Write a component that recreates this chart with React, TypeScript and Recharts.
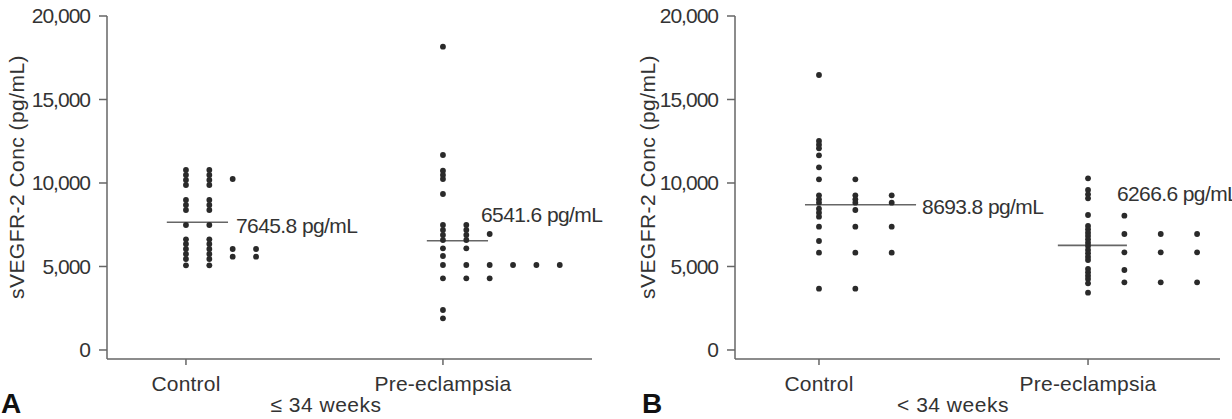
import { ScatterChart, Scatter, XAxis, YAxis, ReferenceLine } from 'recharts';

// dot columns per group; each inner list is one column of stacked dots (pg/mL)
const aControlCols = [
  [10778, 10479, 10180, 9880, 8982, 8683, 8383, 7485, 6629, 6347, 6048, 5749, 5449, 5072],
  [10778, 10479, 10180, 9880, 8982, 8683, 8383, 7485, 6629, 6347, 6048, 5749, 5449, 5072],
  [10240, 6048, 5590],
  [6048, 5590],
];
const aPreCols = [
  [18162, 11677, 10737, 10479, 10240, 9341, 7485, 7186, 6886, 6587, 6090, 5629, 5090, 4293, 2395, 1898],
  [7485, 7186, 6886, 6587, 6090, 5090, 4293],
  [6946, 5090, 4293],
  [5090],
  [5090],
  [5090],
];
const bControlCols = [
  [16467, 12515, 12295, 12078, 11659, 10940, 10222, 9263, 9024, 8822, 8462, 8222, 7983, 7384, 6527, 5827, 3671],
  [10222, 9263, 9024, 8822, 8383, 7384, 5827, 3671],
  [9263, 8822, 7384, 5827],
];
const bPreCols = [
  [10281, 9581, 9323, 9084, 8084, 7425, 7228, 7024, 6826, 6629, 6425, 6228, 5988, 5790, 5590, 5389, 4850, 4653, 4449, 4252, 3994, 3431],
  [8042, 6946, 5850, 4790, 4054],
  [6946, 5850, 4054],
  [6946, 5850, 4054],
];

const aMeans = [7645.8, 6541.6];
const bMeans = [8693.8, 6266.6];
const groupNames = ['Control', 'Pre-eclampsia'];
const yTicks = [0, 5000, 10000, 15000, 20000];

const FONT = '"Liberation Sans", Arial, sans-serif';
const TEXT = '#333';
const AXIS = '#666';
const DOT = '#2a2a2a';

function toPoints(cols: number[][], base: number) {
  return cols.flatMap((col, i) => col.map((v) => ({ x: base + i, y: v })));
}

const fmt = (v: number) => v.toLocaleString('en-US');

interface MeanLine {
  value: number;
  from: number;
  to: number;
  dx: number;
  dy: number;
}

interface PanelProps {
  yAxisWidth: number;
  marginRight: number;
  xDomain: [number, number];
  bases: [number, number];
  groups: [number[][], number[][]];
  means: [MeanLine, MeanLine];
  yLabelX: number;
  caption: string;
  captionDx: number;
}

function Panel({ yAxisWidth, marginRight, xDomain, bases, groups, means, yLabelX, caption, captionDx }: PanelProps) {
  const points = [...toPoints(groups[0], bases[0]), ...toPoints(groups[1], bases[1])];

  return (
    <ScatterChart width={616} height={419} margin={{ top: 16, right: marginRight, bottom: 0, left: 0 }}>
      <XAxis
        type="number"
        dataKey="x"
        domain={xDomain}
        ticks={bases}
        tickFormatter={(v: number) => (v === bases[0] ? groupNames[0] : groupNames[1])}
        height={60}
        stroke={AXIS}
        strokeWidth={1.5}
        tickSize={6}
        tickMargin={11}
        tick={{ fill: TEXT, fontSize: 21, fontFamily: FONT, letterSpacing: 0.2 }}
        allowDataOverflow
        label={({ viewBox }: any) => (
          <text
            x={viewBox.x + viewBox.width / 2 + captionDx}
            y={viewBox.y + 53}
            textAnchor="middle"
            fill={TEXT}
            fontSize={21}
            fontFamily={FONT}
            letterSpacing={0.5}
          >
            {caption}
          </text>
        )}
      />
      <YAxis
        type="number"
        dataKey="y"
        domain={[-540, 20000]}
        ticks={yTicks}
        tickFormatter={fmt}
        width={yAxisWidth}
        stroke={AXIS}
        strokeWidth={1.5}
        tickSize={8}
        tickMargin={9}
        tick={{ fill: TEXT, fontSize: 21, fontFamily: FONT, letterSpacing: -1 }}
        allowDataOverflow
        label={({ viewBox }: any) => {
          const cx = viewBox.x + yLabelX;
          const cy = 177;
          return (
            <text
              x={cx}
              y={cy}
              transform={`rotate(-90, ${cx}, ${cy})`}
              textAnchor="middle"
              dominantBaseline="central"
              fill={TEXT}
              fontSize={21}
              fontFamily={FONT}
              letterSpacing={0.45}
            >
              sVEGFR-2 Conc (pg/mL)
            </text>
          );
        }}
      />
      <Scatter
        data={points}
        isAnimationActive={false}
        shape={(p: any) => <circle cx={p.cx} cy={p.cy} r={2.9} fill={DOT} />}
      />
      {means.map((m, i) => (
        <ReferenceLine
          key={i}
          segment={[
            { x: bases[i] + m.from, y: m.value },
            { x: bases[i] + m.to, y: m.value },
          ]}
          stroke="#666"
          strokeWidth={1.6}
          ifOverflow="visible"
          label={({ viewBox }: any) => (
            <text
              x={viewBox.x + viewBox.width + m.dx}
              y={viewBox.y + m.dy}
              dominantBaseline="central"
              fill={TEXT}
              fontSize={21}
              fontFamily={FONT}
              letterSpacing={-0.6}
            >
              {`${m.value} pg/mL`}
            </text>
          )}
        />
      ))}
    </ScatterChart>
  );
}

const panelLetter = {
  position: 'absolute' as const,
  top: 388,
  fontFamily: '"Liberation Sans", Arial, sans-serif',
  fontWeight: 700,
  fontSize: 28,
  color: '#111',
};

export default function App() {
  return (
    <div style={{ position: 'absolute', left: 0, top: 0, width: 1232, height: 419, overflow: 'hidden', background: '#fff' }}>
      <div style={{ position: 'absolute', left: 0, top: 0 }}>
        <Panel
          yAxisWidth={107}
          marginRight={24}
          xDomain={[-3.38, 17.38]}
          bases={[0, 11]}
          groups={[aControlCols, aPreCols]}
          means={[
            { value: aMeans[0], from: -0.82, to: 1.8, dx: 8, dy: 3 },
            { value: aMeans[1], from: -0.69, to: 1.93, dx: -7, dy: -26 },
          ]}
          yLabelX={16.5}
          caption="≤ 34 weeks"
          captionDx={-23.5}
        />
      </div>
      <div style={{ position: 'absolute', left: 616, top: 0 }}>
        <Panel
          yAxisWidth={119}
          marginRight={12}
          xDomain={[-2.31, 11.03]}
          bases={[0, 7.4]}
          groups={[bControlCols, bPreCols]}
          means={[
            { value: bMeans[0], from: -0.385, to: 2.67, dx: 6, dy: 2 },
            { value: bMeans[1], from: -0.83, to: 1.07, dx: -10, dy: -52 },
          ]}
          yLabelX={31}
          caption="< 34 weeks"
          captionDx={-24.5}
        />
      </div>
      <div style={{ ...panelLetter, left: 1 }}>A</div>
      <div style={{ ...panelLetter, left: 642 }}>B</div>
    </div>
  );
}
